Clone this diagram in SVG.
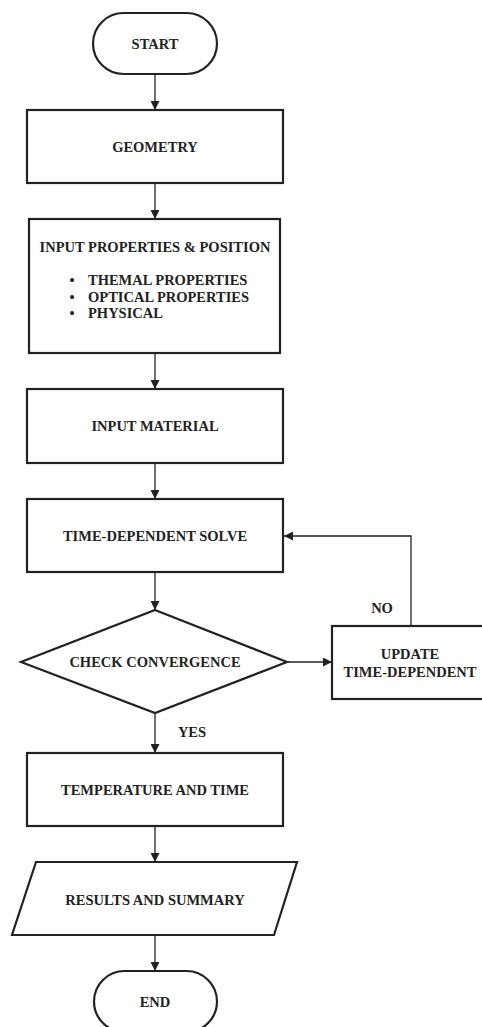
<svg xmlns="http://www.w3.org/2000/svg" width="482" height="1027" viewBox="0 0 482 1027">
<defs>
<style>
.s{fill:#fff;stroke:#222;stroke-width:2.2}
.t{font-weight:bold;font-size:14.5px;fill:#222;text-anchor:middle;dominant-baseline:central}
.tl{text-anchor:start}
.c{fill:none;stroke:#222;stroke-width:1.3}
</style>
<marker id="ah" viewBox="0 0 10 10" refX="10" refY="5" markerWidth="9" markerHeight="9" markerUnits="userSpaceOnUse" orient="auto">
<path d="M0,0 L10,5 L0,10 Z" fill="#222"/>
</marker>
</defs>
<rect width="482" height="1027" fill="#fff"/>
<g font-family="Liberation Serif, serif">
<g id="connectors">
<line class="c" x1="155" y1="74" x2="155" y2="110" marker-end="url(#ah)"/>
<line class="c" x1="155" y1="183" x2="155" y2="219" marker-end="url(#ah)"/>
<line class="c" x1="155" y1="353" x2="155" y2="389" marker-end="url(#ah)"/>
<line class="c" x1="155" y1="463" x2="155" y2="499" marker-end="url(#ah)"/>
<line class="c" x1="155" y1="572" x2="155" y2="610" marker-end="url(#ah)"/>
<line class="c" x1="155" y1="713" x2="155" y2="753" marker-end="url(#ah)"/>
<line class="c" x1="155" y1="826" x2="155" y2="862" marker-end="url(#ah)"/>
<line class="c" x1="155" y1="935" x2="155" y2="971" marker-end="url(#ah)"/>
<line class="c" x1="288" y1="662" x2="332" y2="662" marker-end="url(#ah)"/>
<polyline class="c" points="411,626 411,536 284,536" marker-end="url(#ah)"/>
<text class="t" x="382" y="608">NO</text>
<text class="t" x="192" y="732">YES</text>
</g>
<g id="start">
<rect class="s" x="93" y="13" width="124" height="61" rx="30.5"/>
<text class="t" x="155" y="44">START</text>
</g>
<g id="geometry">
<rect class="s" x="27" y="110" width="256" height="73"/>
<text class="t" x="155" y="147">GEOMETRY</text>
</g>
<g id="input-properties">
<rect class="s" x="29" y="219" width="251" height="134"/>
<text class="t" x="155" y="247">INPUT PROPERTIES &amp; POSITION</text>
<text class="t" x="72" y="280">•</text>
<text class="t" x="72" y="296.5">•</text>
<text class="t" x="72" y="313">•</text>
<text class="t tl" x="88" y="280">THEMAL PROPERTIES</text>
<text class="t tl" x="88" y="296.5">OPTICAL PROPERTIES</text>
<text class="t tl" x="88" y="313">PHYSICAL</text>
</g>
<g id="input-material">
<rect class="s" x="27" y="389" width="256" height="74"/>
<text class="t" x="155" y="426">INPUT MATERIAL</text>
</g>
<g id="time-dependent-solve">
<rect class="s" x="27" y="499" width="256" height="73"/>
<text class="t" x="155" y="536">TIME-DEPENDENT SOLVE</text>
</g>
<g id="check-convergence">
<polygon class="s" points="155,610 287,662 155,713 21,662"/>
<text class="t" x="155" y="662">CHECK CONVERGENCE</text>
</g>
<g id="update-time-dependent">
<rect class="s" x="332" y="626" width="156" height="73"/>
<text class="t" x="410" y="654">UPDATE</text>
<text class="t" x="410" y="672">TIME-DEPENDENT</text>
</g>
<g id="temperature-and-time">
<rect class="s" x="27" y="753" width="256" height="73"/>
<text class="t" x="155" y="790">TEMPERATURE AND TIME</text>
</g>
<g id="results-and-summary">
<polygon class="s" points="36,862 297,862 274,935 12,935"/>
<text class="t" x="155" y="900">RESULTS AND SUMMARY</text>
</g>
<g id="end">
<rect class="s" x="94" y="971" width="123" height="61" rx="30.5"/>
<text class="t" x="155" y="1002">END</text>
</g>
</g>
</svg>
